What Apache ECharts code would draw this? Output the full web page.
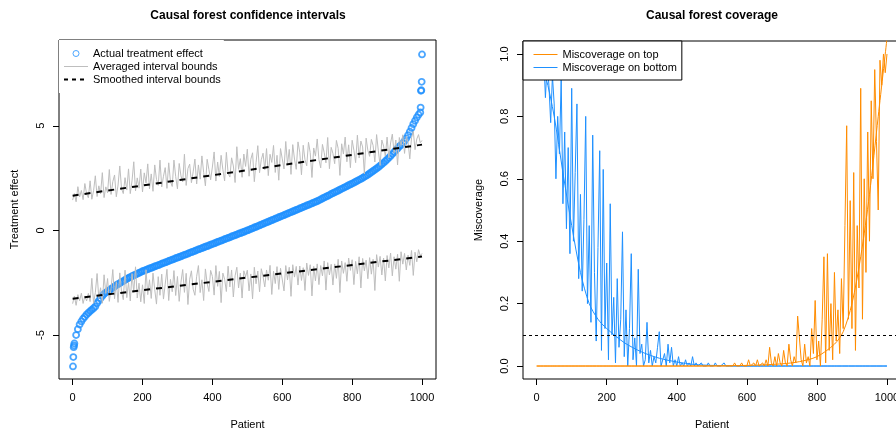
<!DOCTYPE html>
<html>
<head>
<meta charset="utf-8">
<title>Causal forest</title>
<script src="https://cdn.jsdelivr.net/npm/echarts@6/dist/echarts.min.js"></script>
<style>
  html, body { margin: 0; padding: 0; background: #fff; }
  #chart { width: 896px; height: 429px; }
</style>
</head>
<body>
<div id="chart"></div>
<script>
// patients are sampled every 5 along the sorted order
const PATIENT_STEP = 5
const patientTicks = [0, 200, 400, 600, 800, 1000]
const effectTicks = [-5, 0, 5]
const missTicks = [0, 0.2, 0.4, 0.6, 0.8, 1.0]

// actual treatment effect (sorted): patients 1-4, 5..995 every 5, 996-1000
const effectHead = [-6.50, -6.05, -5.58, -5.50]
const effectMid = [
  -5.40, -5.00, -4.72, -4.50, -4.35, -4.22, -4.12, -4.02, -3.94, -3.86,
  -3.79, -3.72, -3.64, -3.48, -3.36, -3.24, -3.13, -3.04, -2.97, -2.91,
  -2.86, -2.80, -2.74, -2.68, -2.62, -2.57, -2.52, -2.47, -2.42, -2.37,
  -2.32, -2.27, -2.23, -2.19, -2.15, -2.11, -2.07, -2.03, -1.99, -1.95,
  -1.92, -1.89, -1.85, -1.82, -1.79, -1.76, -1.72, -1.69, -1.66, -1.63,
  -1.59, -1.56, -1.53, -1.50, -1.46, -1.43, -1.40, -1.37, -1.33, -1.30,
  -1.27, -1.24, -1.20, -1.17, -1.14, -1.11, -1.07, -1.04, -1.01, -0.98,
  -0.94, -0.91, -0.88, -0.85, -0.81, -0.78, -0.75, -0.72, -0.68, -0.65,
  -0.62, -0.59, -0.55, -0.52, -0.49, -0.46, -0.42, -0.39, -0.36, -0.33,
  -0.29, -0.26, -0.23, -0.20, -0.16, -0.13, -0.10, -0.07, -0.03, 0.00,
  0.03, 0.07, 0.10, 0.14, 0.17, 0.21, 0.24, 0.28, 0.31, 0.35,
  0.38, 0.42, 0.45, 0.49, 0.52, 0.56, 0.59, 0.63, 0.66, 0.70,
  0.73, 0.77, 0.80, 0.84, 0.87, 0.91, 0.94, 0.98, 1.01, 1.05,
  1.08, 1.12, 1.15, 1.19, 1.22, 1.26, 1.29, 1.33, 1.36, 1.40,
  1.44, 1.48, 1.53, 1.57, 1.61, 1.65, 1.69, 1.74, 1.78, 1.82,
  1.86, 1.90, 1.95, 1.99, 2.03, 2.07, 2.11, 2.16, 2.20, 2.24,
  2.28, 2.33, 2.37, 2.42, 2.46, 2.51, 2.56, 2.61, 2.66, 2.72,
  2.78, 2.84, 2.90, 2.96, 3.02, 3.09, 3.16, 3.23, 3.31, 3.39,
  3.47, 3.56, 3.65, 3.74, 3.83, 3.92, 4.01, 4.08, 4.17, 4.27,
  4.40, 4.55, 4.72, 4.90, 5.08, 5.24, 5.40, 5.53, 5.64
]
const effectTail = [5.87, 6.67, 6.70, 7.10, 8.41]

// averaged interval bounds, patients 0..1000 every 5
const upperBound = [
  1.45, 1.76, 1.37, 2.09, 1.60, 1.91, 1.47, 2.24, 1.75, 1.56,
  2.37, 1.49, 1.90, 2.61, 1.62, 2.13, 1.75, 2.76, 1.57, 2.08,
  1.80, 2.91, 1.72, 2.33, 2.65, 1.61, 2.17, 3.08, 2.00, 1.76,
  2.52, 1.93, 2.94, 1.76, 2.37, 3.28, 1.89, 2.51, 2.02, 2.93,
  1.84, 2.75, 2.27, 3.18, 1.99, 2.70, 1.87, 3.13, 2.44, 2.15,
  3.36, 2.08, 2.59, 3.00, 2.01, 3.23, 2.34, 2.10, 3.36, 2.57,
  1.99, 3.20, 2.61, 2.32, 3.64, 2.15, 2.96, 3.17, 2.28, 2.80,
  3.41, 2.22, 3.13, 2.45, 3.56, 2.77, 2.13, 3.40, 2.91, 2.42,
  3.03, 3.75, 2.36, 3.27, 2.58, 3.59, 2.91, 2.37, 3.73, 2.74,
  2.55, 3.47, 3.08, 2.29, 4.00, 2.92, 3.43, 2.54, 3.65, 3.06,
  3.88, 2.59, 3.40, 3.71, 2.33, 3.24, 4.05, 2.76, 3.38, 3.69,
  2.90, 3.91, 2.62, 3.64, 3.25, 4.06, 2.77, 3.59, 2.40, 3.91,
  3.42, 2.94, 4.25, 3.16, 3.87, 2.68, 4.10, 3.41, 2.92, 4.23,
  3.74, 2.66, 4.07, 3.38, 3.09, 4.21, 3.72, 2.53, 3.94, 3.55,
  4.37, 3.38, 2.99, 4.11, 3.72, 3.23, 4.44, 2.95, 3.97, 3.68,
  3.19, 4.30, 3.92, 2.63, 4.14, 3.65, 4.46, 3.28, 4.09, 3.00,
  4.31, 3.83, 3.24, 4.55, 3.46, 4.27, 3.99, 2.70, 4.41, 3.82,
  3.54, 4.35, 4.06, 3.27, 4.58, 3.80, 3.11, 4.32, 4.03, 3.55,
  4.46, 3.47, 4.18, 4.60, 3.71, 4.32, 3.13, 4.44, 4.06, 4.57,
  3.68, 4.49, 4.21, 3.42, 4.43, 4.74, 3.86, 4.37, 4.58, 4.19,
  4.30
]
const lowerBound = [
  -3.50, -3.14, -3.58, -3.07, -3.36, -3.00, -3.49, -3.13, -3.37, -3.01,
  -3.40, -2.29, -3.48, -2.97, -2.06, -3.25, -2.74, -3.48, -2.12, -3.01,
  -2.30, -3.39, -2.78, -1.87, -3.26, -2.45, -3.44, -2.03, -2.92, -3.31,
  -1.90, -3.21, -2.48, -3.37, -2.06, -2.95, -1.74, -3.23, -2.52, -3.41,
  -2.60, -3.49, -1.88, -3.07, -2.36, -3.25, -2.04, -2.83, -3.52, -2.21,
  -3.10, -2.09, -3.28, -2.57, -1.86, -3.35, -2.34, -2.93, -1.92, -3.11,
  -2.20, -3.39, -2.48, -1.87, -2.96, -2.05, -3.54, -2.33, -1.93, -2.81,
  -3.10, -2.19, -1.68, -2.97, -2.36, -3.35, -1.84, -2.53, -2.92, -1.91,
  -2.20, -3.09, -1.68, -2.67, -1.96, -3.45, -2.04, -2.33, -2.92, -1.71,
  -2.70, -1.89, -3.18, -2.17, -1.76, -2.75, -2.04, -3.23, -1.93, -2.21,
  -1.90, -2.89, -2.08, -3.27, -1.76, -2.55, -1.94, -2.93, -1.83, -2.21,
  -2.70, -1.89, -2.38, -1.67, -3.06, -1.95, -2.54, -1.73, -2.82, -1.81,
  -1.90, -2.89, -1.68, -2.37, -1.76, -3.15, -1.64, -2.23, -1.72, -2.61,
  -1.70, -2.39, -1.78, -2.87, -1.56, -2.15, -1.64, -3.13, -1.72, -2.41,
  -1.60, -2.59, -1.68, -2.17, -1.46, -2.85, -1.54, -2.13, -1.62, -2.61,
  -1.60, -2.29, -1.38, -2.97, -1.46, -2.05, -1.54, -2.43, -1.32, -1.91,
  -1.40, -2.59, -1.48, -2.07, -1.26, -2.75, -1.34, -1.93, -1.42, -2.31,
  -1.30, -2.09, -1.38, -2.87, -1.16, -1.75, -1.24, -2.13, -1.32, -2.41,
  -1.20, -1.79, -1.08, -2.17, -1.26, -1.85, -1.14, -2.43, -1.02, -1.61,
  -1.10, -1.89, -1.18, -1.67, -0.96, -2.15, -1.04, -1.50, -0.92, -1.21,
  -1.10
]

// smoothed interval bounds
const smoothPatients = [0, 1000]
const smoothUpper = [1.66, 4.10]
const smoothLower = [-3.26, -1.25]

// miscoverage, patients 0..1000 every 5
const missBottom = [
  1.00, 1.00, 1.00, 0.96, 1.00, 0.86, 0.97, 0.90, 0.78, 0.93,
  0.84, 0.60, 0.80, 0.68, 0.92, 0.52, 0.75, 0.44, 0.70, 0.36,
  0.89, 0.40, 0.62, 0.84, 0.28, 0.55, 0.24, 0.47, 0.80, 0.20,
  0.45, 0.14, 0.74, 0.30, 0.08, 0.38, 0.69, 0.05, 0.63, 0.12,
  0.33, 0.02, 0.52, 0.10, 0.22, 0.01, 0.28, 0.06, 0.15, 0.43,
  0.03, 0.18, 0.00, 0.12, 0.36, 0.02, 0.09, 0.00, 0.31, 0.04,
  0.07, 0.00, 0.02, 0.14, 0.01, 0.05, 0.00, 0.03, 0.01, 0.06,
  0.11, 0.00, 0.02, 0.04, 0.00, 0.07, 0.01, 0.06, 0.00, 0.02,
  0.00, 0.03, 0.00, 0.01, 0.00, 0.02, 0.00, 0.01, 0.00, 0.03,
  0, 0.01, 0, 0, 0.01, 0, 0, 0, 0.01, 0,
  0, 0, 0.01, 0, 0, 0, 0, 0.01, 0, 0,
  0, 0, 0, 0, 0, 0, 0, 0, 0, 0,
  0, 0, 0, 0, 0, 0, 0, 0, 0, 0,
  0, 0, 0, 0, 0, 0, 0, 0, 0, 0,
  0, 0, 0, 0, 0, 0, 0, 0, 0, 0,
  0, 0, 0, 0, 0, 0, 0, 0, 0, 0,
  0, 0, 0, 0, 0, 0, 0, 0, 0, 0,
  0, 0, 0, 0, 0, 0, 0, 0, 0, 0,
  0, 0, 0, 0, 0, 0, 0, 0, 0, 0,
  0, 0, 0, 0, 0, 0, 0, 0, 0, 0,
  0
]
const missTop = [
  0, 0, 0, 0, 0, 0, 0, 0, 0, 0,
  0, 0, 0, 0, 0, 0, 0, 0, 0, 0,
  0, 0, 0, 0, 0, 0, 0, 0, 0, 0,
  0, 0, 0, 0, 0, 0, 0, 0, 0, 0,
  0, 0, 0, 0, 0, 0, 0, 0, 0, 0,
  0, 0, 0, 0, 0, 0, 0, 0, 0, 0,
  0, 0, 0, 0, 0, 0, 0, 0, 0, 0,
  0, 0, 0, 0, 0, 0, 0, 0, 0, 0,
  0, 0, 0, 0, 0, 0, 0, 0, 0, 0,
  0, 0, 0, 0, 0, 0, 0, 0, 0, 0,
  0, 0, 0, 0, 0, 0, 0, 0, 0, 0,
  0, 0, 0, 0.01, 0, 0, 0, 0.01, 0, 0,
  0, 0.02, 0, 0, 0.01, 0, 0.02, 0, 0, 0.01,
  0, 0.02, 0, 0.06, 0.01, 0, 0.03, 0, 0.04, 0.01,
  0, 0.05, 0.01, 0, 0.07, 0.02, 0, 0.03, 0.01, 0.16,
  0.16, 0.02, 0.00, 0.07, 0.01, 0.03, 0.00, 0.12, 0.04, 0.21,
  0.02, 0.08, 0.00, 0.15, 0.35, 0.01, 0.36, 0.05, 0.20, 0.02,
  0.30, 0.08, 0.18, 0.04, 0.28, 0.12, 0.45, 0.77, 0.15, 0.53,
  0.12, 0.62, 0.05, 0.45, 0.25, 0.89, 0.15, 0.60, 0.30, 0.75,
  0.40, 0.85, 0.60, 0.95, 0.72, 0.50, 0.98, 0.90, 1.00, 0.94,
  1.00
]

// smoothed miscoverage curves
const smoothBottomPatients = [0, 25, 50, 75, 100, 125, 150, 175, 200, 250, 300, 350, 400, 450, 500, 600, 800, 1000]
const smoothBottom = [1.0, 0.93, 0.80, 0.62, 0.45, 0.30, 0.20, 0.15, 0.12, 0.075, 0.045, 0.025, 0.013, 0.005, 0.002, 0, 0, 0]
const smoothTopPatients = [0, 400, 600, 700, 750, 800, 850, 875, 900, 925, 950, 975, 1000]
const smoothTop = [0, 0, 0.002, 0.007, 0.014, 0.03, 0.07, 0.11, 0.20, 0.35, 0.55, 0.80, 1.05]

const nominalMiss = 0.1

const BLUE = '#1E90FF'
const ORANGE = '#FF8C00'
const GRAY = '#BEBEBE'
const FONT = '"Liberation Sans", Arial, sans-serif'

function onGrid(values, start) {
    return values.map((v, i) => [start + i * PATIENT_STEP, v])
}
function zip(xs, ys) {
    return xs.map((x, i) => [x, ys[i]])
}

const effectPoints = effectHead.map((v, i) => [i + 1, v])
    .concat(onGrid(effectMid, 5))
    .concat(effectTail.map((v, i) => [996 + i, v]))

// legend entry for a plain line (hide the dot echarts puts on line icons)
function lineEntry(name, width, type) {
    return { name: name, itemStyle: { opacity: 0 }, lineStyle: { width: width, type: type || 'solid' } }
}

function xAxisFor(gridIndex) {
    return {
        type: 'value', gridIndex: gridIndex, min: -39, max: 1040,
        name: 'Patient', nameLocation: 'middle', nameGap: 40,
        nameTextStyle: { color: '#000', fontSize: 11, fontFamily: FONT },
        axisLine: { show: false, onZero: false },
        axisTick: { show: true, length: 6, lineStyle: { color: '#000' }, customValues: patientTicks },
        axisLabel: {
            color: '#000', fontSize: 11, fontFamily: FONT, margin: 13, customValues: patientTicks,
            formatter: v => String(v),
        },
        splitLine: { show: false },
    }
}
function yAxisFor(gridIndex, name, min, max, ticks, digits) {
    return {
        type: 'value', gridIndex: gridIndex, min: min, max: max,
        name: name, nameLocation: 'middle', nameGap: 39,
        nameTextStyle: { color: '#000', fontSize: 11, fontFamily: FONT },
        axisLine: { show: false, onZero: false },
        axisTick: { show: true, length: 6, lineStyle: { color: '#000' }, customValues: ticks },
        axisLabel: {
            color: '#000', fontSize: 11, fontFamily: FONT, margin: 13, rotate: 90,
            customValues: ticks,
            formatter: v => v.toFixed(digits),
        },
        splitLine: { show: false },
    }
}

const chart = echarts.init(document.getElementById('chart'), null, { renderer: 'canvas' })
chart.setOption({
    animation: false,
    backgroundColor: '#fff',
    title: [
        { text: 'Causal forest confidence intervals', left: 248, top: 10, textAlign: 'center', padding: 0,
          textStyle: { fontSize: 12, fontWeight: 'bold', color: '#000', fontFamily: FONT } },
        { text: 'Causal forest coverage', left: 712, top: 10, textAlign: 'center', padding: 0,
          textStyle: { fontSize: 12, fontWeight: 'bold', color: '#000', fontFamily: FONT } },
    ],
    grid: [
        { left: 59, top: 40, width: 377, height: 339, show: true, borderColor: '#000', borderWidth: 1,
          backgroundColor: 'transparent', containLabel: false, outerBoundsMode: 'none' },
        { left: 523, top: 41, width: 378, height: 338, show: true, borderColor: '#000', borderWidth: 1,
          backgroundColor: 'transparent', containLabel: false, outerBoundsMode: 'none' },
    ],
    legend: [
        {
            left: 59, top: 40, orient: 'vertical', selectedMode: false,
            padding: [7, 3, 7, 4], itemWidth: 24, itemHeight: 6, itemGap: 0,
            backgroundColor: '#fff', borderWidth: 0,
            textStyle: { fontSize: 11, lineHeight: 13, color: '#000', fontFamily: FONT },
            data: [
                { name: 'Actual treatment effect', icon: 'circle',
                  itemStyle: { color: 'transparent', borderColor: BLUE, borderWidth: 1 } },
                lineEntry('Averaged interval bounds', 1),
                lineEntry('Smoothed interval bounds', 2, [4, 4]),
            ],
        },
        {
            left: 523, top: 41, orient: 'vertical', selectedMode: false,
            padding: [7, 5, 6, 10], itemWidth: 24, itemHeight: 6, itemGap: 0,
            backgroundColor: '#fff', borderColor: '#000', borderWidth: 1,
            textStyle: { fontSize: 11, lineHeight: 13, color: '#000', fontFamily: FONT },
            data: [lineEntry('Miscoverage on top', 1), lineEntry('Miscoverage on bottom', 1)],
        },
    ],
    xAxis: [xAxisFor(0), xAxisFor(1)],
    yAxis: [
        yAxisFor(0, 'Treatment effect', -7.1, 9.1, effectTicks, 0),
        yAxisFor(1, 'Miscoverage', -0.0416, 1.0416, missTicks, 1),
    ],
    series: [
        {
            name: 'Actual treatment effect', type: 'scatter', xAxisIndex: 0, yAxisIndex: 0,
            data: effectPoints, symbol: 'circle', symbolSize: 6, silent: true,
            itemStyle: { color: 'transparent', borderColor: BLUE, borderWidth: 1.8 },
        },
        {
            name: 'Averaged interval bounds', type: 'line', xAxisIndex: 0, yAxisIndex: 0,
            data: onGrid(upperBound, 0), symbol: 'none', silent: true,
            itemStyle: { color: GRAY }, lineStyle: { color: GRAY, width: 1 },
        },
        {
            name: 'Averaged interval bounds', type: 'line', xAxisIndex: 0, yAxisIndex: 0,
            data: onGrid(lowerBound, 0), symbol: 'none', silent: true,
            itemStyle: { color: GRAY }, lineStyle: { color: GRAY, width: 1 },
        },
        {
            name: 'Smoothed interval bounds', type: 'line', xAxisIndex: 0, yAxisIndex: 0,
            data: zip(smoothPatients, smoothUpper), symbol: 'none', silent: true,
            itemStyle: { color: '#000' }, lineStyle: { color: '#000', width: 2, type: [6, 6] },
        },
        {
            name: 'Smoothed interval bounds', type: 'line', xAxisIndex: 0, yAxisIndex: 0,
            data: zip(smoothPatients, smoothLower), symbol: 'none', silent: true,
            itemStyle: { color: '#000' }, lineStyle: { color: '#000', width: 2, type: [6, 6] },
        },
        {
            name: 'Miscoverage on bottom', type: 'line', xAxisIndex: 1, yAxisIndex: 1,
            data: onGrid(missBottom, 0), symbol: 'none', silent: true,
            itemStyle: { color: BLUE }, lineStyle: { color: BLUE, width: 1 },
        },
        {
            name: 'Miscoverage on bottom', type: 'line', xAxisIndex: 1, yAxisIndex: 1,
            data: zip(smoothBottomPatients, smoothBottom), symbol: 'none', silent: true, smooth: 0.3,
            itemStyle: { color: BLUE }, lineStyle: { color: BLUE, width: 1 },
        },
        {
            name: 'Miscoverage on top', type: 'line', xAxisIndex: 1, yAxisIndex: 1,
            data: onGrid(missTop, 0), symbol: 'none', silent: true,
            itemStyle: { color: ORANGE }, lineStyle: { color: ORANGE, width: 1 },
        },
        {
            name: 'Miscoverage on top', type: 'line', xAxisIndex: 1, yAxisIndex: 1,
            data: zip(smoothTopPatients, smoothTop), symbol: 'none', silent: true, smooth: 0.3,
            itemStyle: { color: ORANGE }, lineStyle: { color: ORANGE, width: 1 },
            markLine: {
                silent: true, symbol: 'none', label: { show: false },
                lineStyle: { color: '#000', width: 1, type: [3, 3] },
                data: [{ yAxis: nominalMiss }],
            },
        },
    ],
})
</script>
</body>
</html>
